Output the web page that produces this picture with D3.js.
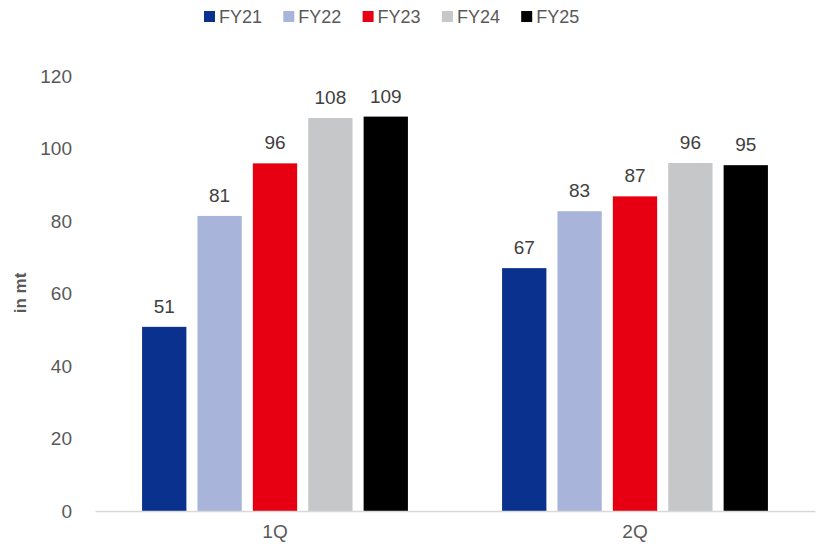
<!DOCTYPE html>
<html><head><meta charset="utf-8">
<script src="https://cdn.jsdelivr.net/npm/d3@7/dist/d3.min.js"></script>
<style>body{margin:0;background:#fff}svg{display:block}text{font-family:"Liberation Sans",Arial,sans-serif}</style>
</head><body>
<svg id="c" width="824" height="546"></svg>
<script>
const categories = ["1Q", "2Q"];
const seriesNames = ["FY21", "FY22", "FY23", "FY24", "FY25"];
const seriesColors = ["#0B318F", "#A9B4DA", "#E60012", "#C6C7C8", "#000000"];
const FY21 = [50.8, 67.0];
const FY22 = [81.4, 82.7];
const FY23 = [95.9, 86.8];
const FY24 = [108.4, 96.0];
const FY25 = [108.8, 95.4];
const yTicks = [0, 20, 40, 60, 80, 100, 120];
const seriesValues = [FY21, FY22, FY23, FY24, FY25];

(function () {
const svg = d3.select("#c");
const mLeft = 95, mRight = 815, mTop = 76, mBottom = 511;
const y = d3.scaleLinear().domain([0, 120]).range([mBottom, mTop]);
const x0 = d3.scaleBand().domain(categories).range([mLeft, mRight]).paddingInner(0).paddingOuter(0);
const x1 = d3.scaleBand().domain(seriesNames).range([0, x0.bandwidth()]).paddingInner(0.2).paddingOuter(0.85);

// y axis labels
const yAxis = d3.axisLeft(y).tickValues(yTicks).tickSize(0).tickPadding(0);
const ga = svg.append("g").attr("transform", `translate(72,0)`).call(yAxis);
ga.select(".domain").remove();
ga.selectAll("text").attr("fill", "#595959").style("font-size", "19px").attr("x", 0);

// bars
const groups = svg.append("g").selectAll("g").data(categories).join("g")
  .attr("transform", d => `translate(${x0(d)},0)`);
groups.selectAll("rect").data((c, ci) => seriesNames.map((s, si) => ({s, si, v: seriesValues[si][ci]})))
  .join("rect")
  .attr("x", d => x1(d.s)).attr("width", x1.bandwidth())
  .attr("y", d => y(d.v)).attr("height", d => y(0) - y(d.v))
  .attr("fill", d => seriesColors[d.si]);
groups.selectAll("text").data((c, ci) => seriesNames.map((s, si) => ({s, si, v: seriesValues[si][ci]})))
  .join("text")
  .attr("x", d => x1(d.s) + x1.bandwidth() / 2).attr("y", d => y(d.v) - 14)
  .attr("text-anchor", "middle").attr("fill", "#404040").style("font-size", "19px")
  .text(d => d3.format(".0f")(d.v));

// x axis
const xAxis = d3.axisBottom(x0).tickSize(0).tickPadding(14);
const gx = svg.append("g").attr("transform", `translate(0,${mBottom})`).call(xAxis);
gx.select(".domain").attr("stroke", "#D9D9D9").attr("stroke-width", 1.5);
gx.selectAll("text").attr("fill", "#595959").style("font-size", "19px");

// y title
svg.append("text").attr("transform", "translate(26,293) rotate(-90)")
  .attr("text-anchor", "middle").attr("fill", "#595959")
  .style("font-size", "17px").style("font-weight", "bold").text("in mt");

// legend
const lg = svg.append("g").selectAll("g").data(seriesNames).join("g")
  .attr("transform", (d, i) => `translate(${204 + i * 79.3},0)`);
lg.append("rect").attr("x", 0).attr("y", 11).attr("width", 11).attr("height", 11)
  .attr("fill", (d, i) => seriesColors[i]);
lg.append("text").attr("x", 15).attr("y", 23).attr("fill", "#595959")
  .style("font-size", "18px").text(d => d);
})();
</script>
</body></html>
